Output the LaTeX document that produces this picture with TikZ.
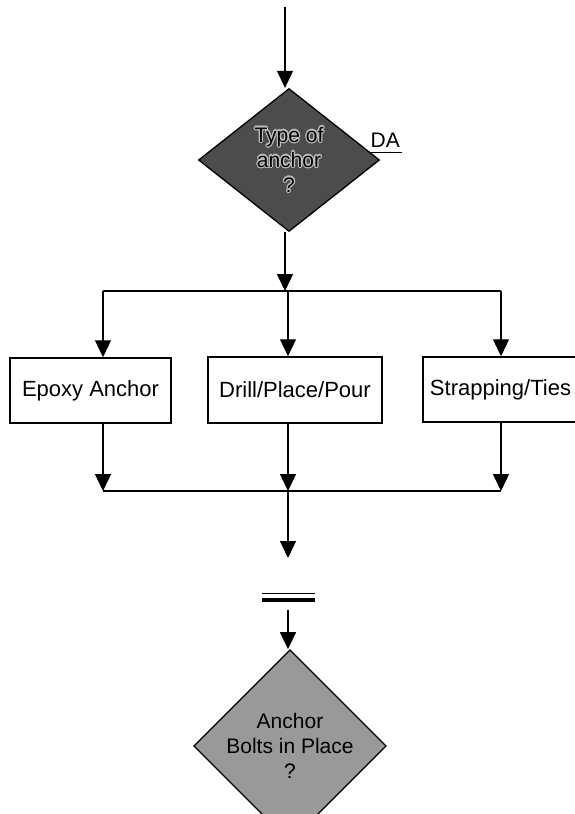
\documentclass[tikz,border=0pt]{standalone}
\usepackage{fontspec}
\setmainfont{Liberation Sans}
\usepackage{contour}
\contourlength{1.1pt}
\usetikzlibrary{shapes.geometric,arrows.meta}
\begin{document}
\begin{tikzpicture}[x=1pt,y=-1pt,
  line width=1.3pt,
  arr/.style={-{Triangle[length=17pt,width=16pt]}},
  procbox/.style={draw, line width=1.5pt, inner sep=0pt, font=\fontsize{22}{26}\selectfont},
  decision/.style={diamond, draw, line width=1.3pt, inner sep=0pt, align=center, font=\fontsize{21}{25}\selectfont}]
\useasboundingbox (0,0) rectangle (574,814);
% top decision
\coordinate (start) at (285,7);
\node[decision, fill=black!70, minimum width=181pt, minimum height=143pt] (d1) at (289,160)
  {\contour{black!25}{Type of}\\\contour{black!25}{anchor}\\\contour{black!25}{?}};
\node[font=\fontsize{21}{24}\selectfont, inner sep=0pt, anchor=base west] (da) at (370,147) {DA};
\draw[line width=1pt] ([yshift=-5pt]da.base west) -- ([xshift=2pt,yshift=-5pt]da.base east);
% distribution
\coordinate (j1) at (285,291);
\coordinate (l1) at (103,291);
\coordinate (c1) at (288,291);
\coordinate (r1) at (501,291);
\node[procbox, minimum width=161pt, minimum height=65pt] (b1) at (90.5,390.5) {Epoxy Anchor};
\node[procbox, minimum width=174pt, minimum height=66pt] (b2) at (295,390) {Drill/Place/Pour};
\node[procbox, minimum width=155pt, minimum height=65pt] (b3) at (500.5,389.5) {Strapping/Ties};
\draw[arr] (start) -- (start |- d1.north);
\draw[arr] (d1.south -| j1) -- (j1);
\draw (l1) -- (r1);
\draw[arr] (l1) -- (l1 |- b1.north);
\draw[arr] (c1) -- (c1 |- b2.north);
\draw[arr] (r1) -- (r1 |- b3.north);
% merge
\coordinate (l2) at (103,491);
\coordinate (c2) at (288,491);
\coordinate (r2) at (501,491);
\coordinate (c3) at (288,558);
\draw[arr] (l2 |- b1.south) -- (l2);
\draw[arr] (c2 |- b2.south) -- (c2);
\draw[arr] (r2 |- b3.south) -- (r2);
\draw (l2) -- (r2);
\draw[arr] (c2) -- (c3);
% double bar
\coordinate (e1a) at (262,593.5);
\coordinate (e1b) at (315,593.5);
\coordinate (e2a) at (262,599.5);
\coordinate (e2b) at (315,599.5);
\draw[line width=1.6pt] (e1a) -- (e1b);
\draw[line width=4pt] (e2a) -- (e2b);
% bottom decision
\coordinate (c4) at (288,610);
\node[decision, fill=black!40, minimum width=185pt, minimum height=138pt] (d2) at (290,746)
  {Anchor\\Bolts in Place\\?};
\draw[arr] (c4) -- (c4 |- d2.north);
\end{tikzpicture}
\end{document}
